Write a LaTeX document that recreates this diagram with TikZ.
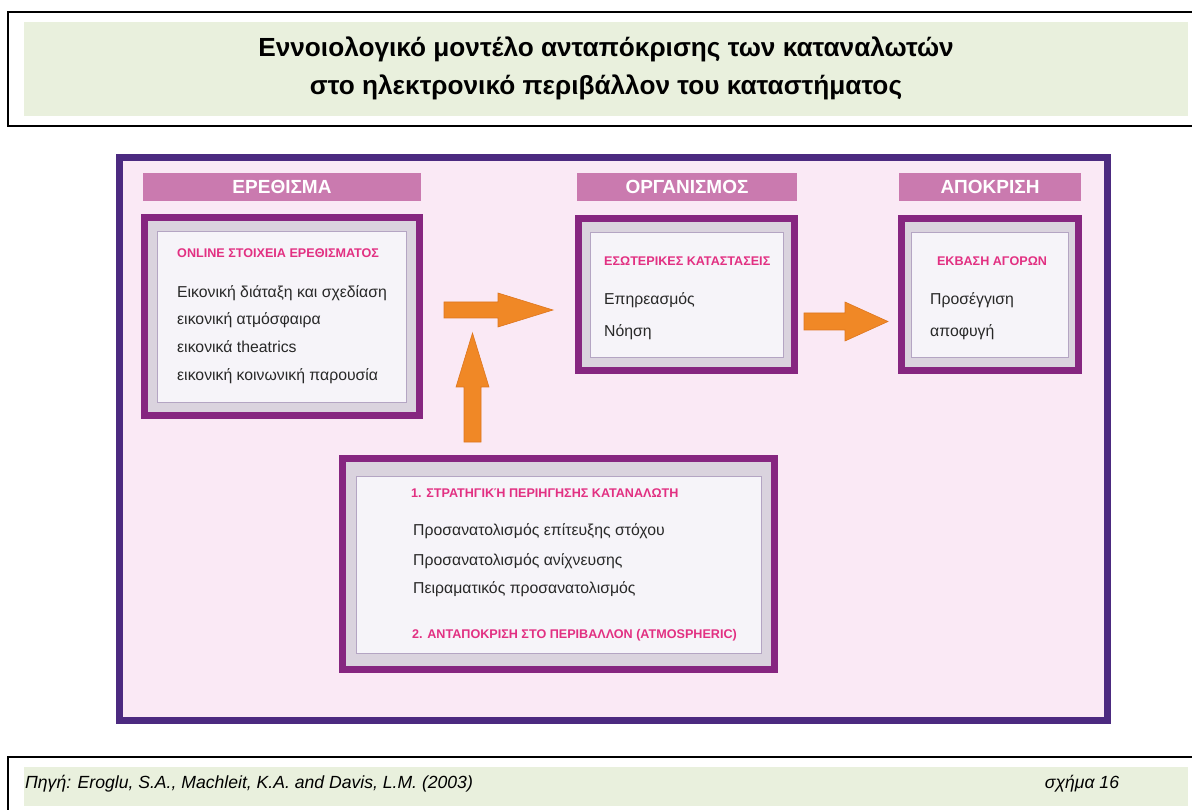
\documentclass[tikz,border=0pt]{standalone}
\usepackage{fontspec}
\setmainfont{Liberation Sans}
\usetikzlibrary{positioning}
\definecolor{framepurple}{RGB}{76,42,128}
\definecolor{boxpurple}{RGB}{134,38,128}
\definecolor{bandgray}{RGB}{218,211,222}
\definecolor{innerfill}{RGB}{246,244,249}
\definecolor{innerline}{RGB}{180,165,195}
\definecolor{bgpink}{RGB}{250,233,245}
\definecolor{barpink}{RGB}{202,122,175}
\definecolor{titlepink}{RGB}{226,48,130}
\definecolor{arroworange}{RGB}{240,136,38}
\definecolor{arrowedge}{RGB}{222,118,30}
\definecolor{titlegreen}{RGB}{233,240,221}
\definecolor{bodytext}{RGB}{40,40,40}
\tikzset{
  outerbox/.style={draw=boxpurple, line width=7pt, fill=bandgray, inner sep=0pt, outer sep=0pt},
  innerbox/.style={draw=innerline, line width=0.8pt, fill=innerfill, inner sep=0pt, outer sep=0pt},
  headbar/.style={fill=barpink, inner sep=0pt, minimum height=28pt, text=white, font=\fontsize{19}{21}\selectfont\bfseries},
  boxtitle/.style={text=titlepink, inner sep=0pt, font=\fontsize{12.6}{14}\selectfont\bfseries},
  bodyline/.style={text=bodytext, inner sep=0pt, font=\fontsize{15.8}{18}\selectfont},
  blockarrow/.style={fill=arroworange, draw=arrowedge, line width=0.6pt},
  titletext/.style={font=\fontsize{26.2}{28}\selectfont\bfseries, inner sep=0pt},
  foottext/.style={font=\fontsize{17.6}{21}\selectfont\itshape, inner sep=0pt},
}
\begin{document}
\begin{tikzpicture}[x=1pt,y=-1pt]
\useasboundingbox (0,0) rectangle (1192,810);
\fill[white] (0,0) rectangle (1192,810);
% title frame
\fill[titlegreen] (24,22) rectangle (1188,116);
\draw[line width=2pt] (1193,12) -- (8,12) -- (8,126) -- (1193,126);
\node[titletext] (t1) at (606,49) {Εννοιολογικό μοντέλο ανταπόκρισης των καταναλωτών};
\node[titletext] (t2) at (606,87) {στο ηλεκτρονικό περιβάλλον του καταστήματος};
% footer
\fill[titlegreen] (24,767) rectangle (1188,806);
\draw[line width=2pt] (1193,757) -- (8,757) -- (8,811);
\node[foottext, anchor=west] (src) at (25,784) {Πηγή: Eroglu, S.A., Machleit, K.A. and Davis, L.M. (2003)};
\node[foottext] (fig) at (1082,784) {σχήμα 16};
% main frame
\node[draw=framepurple, line width=7pt, fill=bgpink, minimum width=988pt, minimum height=563pt, inner sep=0pt] (frame) at (613.5,439) {};
% header bars
\node[headbar, minimum width=278pt] (h1) at (282,187) {ΕΡΕΘΙΣΜΑ};
\node[headbar, minimum width=220pt] (h2) at (687,187) {ΟΡΓΑΝΙΣΜΟΣ};
\node[headbar, minimum width=182pt] (h3) at (990,187) {ΑΠΟΚΡΙΣΗ};
% box 1
\node[outerbox, minimum width=275pt, minimum height=198pt] (b1) at (282,316.5) {};
\node[innerbox, minimum width=249pt, minimum height=171pt] (b1i) at (281.5,316.5) {};
\node[boxtitle, anchor=west] (b1t) at (177,253) {ONLINE ΣΤΟΙΧΕΙΑ ΕΡΕΘΙΣΜΑΤΟΣ};
\node[bodyline, anchor=west] (b1a) at (177,293) {Εικονική διάταξη και σχεδίαση};
\node[bodyline, anchor=west] (b1b) at (177,320) {εικονική ατμόσφαιρα};
\node[bodyline, anchor=west] (b1c) at (177,347) {εικονικά theatrics};
\node[bodyline, anchor=west] (b1d) at (177,376) {εικονική κοινωνική παρουσία};
% box 2
\node[outerbox, minimum width=216pt, minimum height=152pt] (b2) at (686.5,294.5) {};
\node[innerbox, minimum width=193pt, minimum height=125pt] (b2i) at (686.5,294.5) {};
\node[boxtitle, anchor=west] (b2t) at (604,261) {ΕΣΩΤΕΡΙΚΕΣ ΚΑΤΑΣΤΑΣΕΙΣ};
\node[bodyline, anchor=west] (b2a) at (604,300) {Επηρεασμός};
\node[bodyline, anchor=west] (b2b) at (604,332) {Νόηση};
% box 3
\node[outerbox, minimum width=177pt, minimum height=152pt] (b3) at (990,294.5) {};
\node[innerbox, minimum width=157pt, minimum height=125pt] (b3i) at (989.5,294.5) {};
\node[boxtitle] (b3t) at (992,261) {ΕΚΒΑΣΗ ΑΓΟΡΩΝ};
\node[bodyline, anchor=west] (b3a) at (930,300) {Προσέγγιση};
\node[bodyline, anchor=west] (b3b) at (930,332) {αποφυγή};
% box 4
\node[outerbox, minimum width=432pt, minimum height=211pt] (b4) at (558.5,564) {};
\node[innerbox, minimum width=405pt, minimum height=177pt] (b4i) at (558.5,564.5) {};
\node[boxtitle, anchor=west] (b4t) at (411,493) {1. ΣΤΡΑΤΗΓΙΚΉ ΠΕΡΙΗΓΗΣΗΣ ΚΑΤΑΝΑΛΩΤΗ};
\node[bodyline, anchor=west] (b4a) at (413,531) {Προσανατολισμός επίτευξης στόχου};
\node[bodyline, anchor=west] (b4b) at (413,561) {Προσανατολισμός ανίχνευσης};
\node[bodyline, anchor=west] (b4c) at (413,589) {Πειραματικός προσανατολισμός};
\node[boxtitle, anchor=west] (b4e) at (412,635) {2. ΑΝΤΑΠΟΚΡΙΣΗ ΣΤΟ ΠΕΡΙΒΑΛΛΟΝ (ATMOSPHERIC)};
% arrows
\coordinate (a1s) at (444,310);
\coordinate (a1t) at (553,310);
\draw[blockarrow] (a1s) ++(0,-8) -- (498,302) -- (498,293) -- (a1t) -- (498,327) -- (498,318) -- (444,318) -- cycle;
\coordinate (a2s) at (804,321.5);
\coordinate (a2t) at (888,321.5);
\draw[blockarrow] (a2s) ++(0,-8.5) -- (845,313) -- (845,302) -- (a2t) -- (845,341) -- (845,330) -- (804,330) -- cycle;
\coordinate (a3s) at (472.5,442);
\coordinate (a3t) at (472.5,333);
\draw[blockarrow] (a3s) ++(-8.5,0) -- (464,387) -- (456,387) -- (a3t) -- (489,387) -- (481,387) -- (481,442) -- cycle;
\end{tikzpicture}
\end{document}
